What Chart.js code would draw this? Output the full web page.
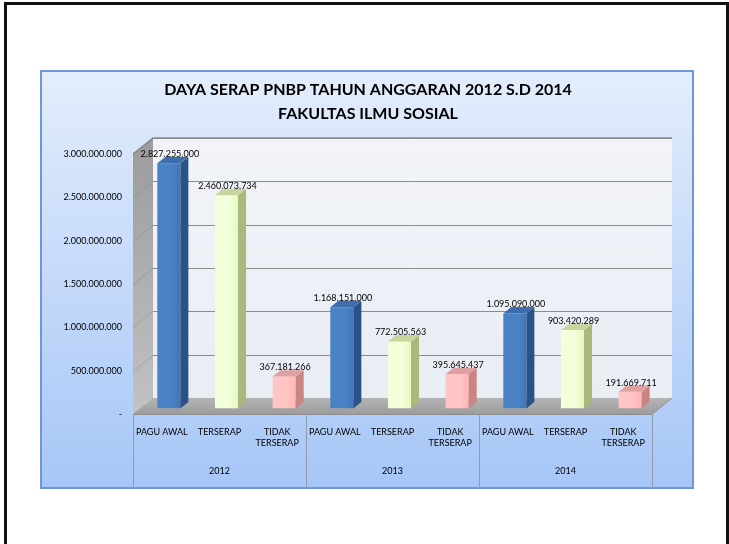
<!DOCTYPE html>
<html><head><meta charset="utf-8">
<script src="https://cdn.jsdelivr.net/npm/chart.js@4.4.1/dist/chart.umd.min.js"></script>
<style>
html,body{margin:0;padding:0;background:#fff;width:729px;height:544px;overflow:hidden;}
#frame{position:absolute;left:4px;top:2px;width:719px;height:560px;border:3px solid #111;}
#box{position:absolute;left:40px;top:70px;width:650px;height:415px;border:2px solid #6c98d8;background:linear-gradient(#e3edfc,#a7c6f7);}
#c{position:absolute;left:0;top:0;}
</style></head>
<body>
<div id="frame"></div>
<div id="box"></div>
<canvas id="c" width="729" height="544"></canvas>
<script>
const years = ['2012', '2013', '2014'];
const categories = ['PAGU AWAL', 'TERSERAP', ['TIDAK', 'TERSERAP']];
const paguAwal = [2827255000, 1168151000, 1095090000];
const terserap = [2460073734, 772505563, 903420289];
const tidakTerserap = [367181266, 395645437, 191669711];
const yTicks = [0, 500000000, 1000000000, 1500000000, 2000000000, 2500000000, 3000000000];

const labels = [];
const values = [];
years.forEach((yr, k) => {
  categories.forEach(c => labels.push(c));
  values.push(paguAwal[k], terserap[k], tidakTerserap[k]);
});

const fmt = v => v === 0 ? '-' : String(v).replace(/\B(?=(\d{3})+(?!\d))/g, '.');

const frontA = ['#4b82c6', '#f3ffda', '#ffc4c4'];
const frontB = ['#396baf', '#dbf5a6', '#ffaaaa'];
const sideC = ['#2b5288', '#a9b97c', '#c98484'];
const topC = ['#3f6eae', '#c6d69e', '#dea0a0'];

const DX = 20, DY = -16;      // wall depth
const BX = 7, BY = -5.6;      // bar position in depth
const BD = 8, BDY = -6.4;     // bar depth

const FONT = 'Lato, "Noto Sans", sans-serif';

const threeD = {
  id: 'threeD',
  beforeDatasetsDraw(chart) {
    const {ctx, chartArea: a, scales: {y}} = chart;
    ctx.save();
    let g = ctx.createLinearGradient(0, a.top, 0, a.bottom);
    g.addColorStop(0, '#9d9d9d');
    g.addColorStop(1, '#c2c2c2');
    ctx.fillStyle = g;
    ctx.beginPath();
    ctx.moveTo(a.left, a.top);
    ctx.lineTo(a.left + DX, a.top + DY);
    ctx.lineTo(a.left + DX, a.bottom + DY);
    ctx.lineTo(a.left, a.bottom);
    ctx.closePath();
    ctx.fill();
    g = ctx.createLinearGradient(0, a.top + DY, 0, a.bottom + DY);
    g.addColorStop(0, '#f2f4f9');
    g.addColorStop(1, '#e9edf4');
    ctx.fillStyle = g;
    ctx.fillRect(a.left + DX, a.top + DY, a.right - a.left, a.bottom - a.top);
    ctx.strokeStyle = '#8a8a8a';
    ctx.lineWidth = 1.5;
    ctx.beginPath();
    ctx.moveTo(a.left, a.top);
    ctx.lineTo(a.left + DX, a.top + DY);
    ctx.lineTo(a.right + DX, a.top + DY);
    ctx.stroke();
    yTicks.forEach(v => {
      if (v === 0) return;
      const py = Math.round(y.getPixelForValue(v)) + 0.5;
      ctx.strokeStyle = '#8c8c8c';
      ctx.lineWidth = 1;
      ctx.beginPath();
      ctx.moveTo(a.left + DX, py + DY);
      ctx.lineTo(a.right + DX, py + DY);
      ctx.stroke();
      ctx.strokeStyle = 'rgba(120,120,120,0.35)';
      ctx.beginPath();
      ctx.moveTo(a.left, py);
      ctx.lineTo(a.left + DX, py + DY);
      ctx.stroke();
    });
    g = ctx.createLinearGradient(0, a.bottom + DY, 0, a.bottom);
    g.addColorStop(0, '#b4b4b4');
    g.addColorStop(1, '#9c9c9c');
    ctx.fillStyle = g;
    ctx.beginPath();
    ctx.moveTo(a.left, a.bottom);
    ctx.lineTo(a.right, a.bottom);
    ctx.lineTo(a.right + DX, a.bottom + DY);
    ctx.lineTo(a.left + DX, a.bottom + DY);
    ctx.closePath();
    ctx.fill();
    ctx.strokeStyle = '#8e8e8e';
    ctx.lineWidth = 1;
    ctx.beginPath();
    ctx.moveTo(a.left, a.bottom + 0.5);
    ctx.lineTo(a.right, a.bottom + 0.5);
    ctx.lineTo(a.right + DX, a.bottom + DY);
    ctx.stroke();
    ctx.restore();
    ctx.save();
    ctx.translate(BX, BY);
  },
  afterDatasetsDraw(chart) {
    const ctx = chart.ctx;
    const meta = chart.getDatasetMeta(0);
    meta.data.forEach((bar, i) => {
      const {x, y, base, width} = bar.getProps(['x', 'y', 'base', 'width'], true);
      const l = x - width / 2, r = x + width / 2, c = i % 3;
      ctx.fillStyle = sideC[c];
      ctx.beginPath();
      ctx.moveTo(r, y);
      ctx.lineTo(r + BD, y + BDY);
      ctx.lineTo(r + BD, base + BDY);
      ctx.lineTo(r, base);
      ctx.closePath();
      ctx.fill();
      ctx.fillStyle = topC[c];
      ctx.beginPath();
      ctx.moveTo(l, y);
      ctx.lineTo(r, y);
      ctx.lineTo(r + BD, y + BDY);
      ctx.lineTo(l + BD, y + BDY);
      ctx.closePath();
      ctx.fill();
      ctx.fillStyle = '#000';
      ctx.font = '9px ' + FONT;
      ctx.textAlign = 'center';
      ctx.textBaseline = 'middle';
      ctx.fillText(fmt(values[i]), x + 1, y - 9);
    });
    ctx.restore();
  },
  afterDraw(chart) {
    const {ctx, chartArea: a, scales: {x, xYear}} = chart;
    ctx.save();
    ctx.strokeStyle = '#8f9bb0';
    ctx.lineWidth = 1;
    for (let k = 0; k <= years.length; k++) {
      const px = Math.round(x.getPixelForValue(k * categories.length - 0.5)) + 0.5;
      ctx.beginPath();
      ctx.moveTo(px, a.bottom);
      ctx.lineTo(px, xYear.bottom - 1);
      ctx.stroke();
    }
    ctx.restore();
  }
};

new Chart(document.getElementById('c'), {
  type: 'bar',
  data: {
    labels: labels,
    datasets: [{
      data: values,
      backgroundColor: (ctx) => {
        const chart = ctx.chart;
        const c = ctx.dataIndex % 3;
        const xs = chart.scales.x;
        if (!xs || !chart.chartArea) return frontB[c];
        const px = xs.getPixelForValue(ctx.dataIndex);
        const w = 23;
        const g = chart.ctx.createLinearGradient(px - w / 2 + BX, 0, px + w / 2 + BX, 0);
        g.addColorStop(0, frontA[c]);
        g.addColorStop(0.3, frontA[c]);
        g.addColorStop(1, frontB[c]);
        return g;
      },
      borderWidth: 0,
      barPercentage: 0.4,
      categoryPercentage: 1
    }]
  },
  plugins: [threeD],
  options: {
    responsive: false,
    devicePixelRatio: 1,
    animation: false,
    layout: {padding: {left: 40, right: 33, top: 0, bottom: 55}},
    plugins: {
      legend: {display: false},
      tooltip: {enabled: false},
      title: {
        display: true,
        text: ['DAYA SERAP PNBP TAHUN ANGGARAN 2012 S.D 2014', 'FAKULTAS ILMU SOSIAL'],
        color: '#000',
        font: {family: FONT, size: 16, weight: 'bold', lineHeight: 24 / 16},
        padding: {top: 78, bottom: 28}
      }
    },
    scales: {
      y: {
        min: 0, max: 3000000000,
        afterFit(s) { s.width = 93; },
        afterBuildTicks(s) { s.ticks = yTicks.map(v => ({value: v})); },
        ticks: {callback: v => fmt(v), font: {family: FONT, size: 9}, color: '#000', padding: 11},
        grid: {display: false, drawTicks: false},
        border: {display: false}
      },
      yRight: {
        position: 'right',
        min: 0, max: 1,
        afterFit(s) { s.width = 44; },
        ticks: {display: false},
        grid: {display: false, drawTicks: false},
        border: {display: false}
      },
      x: {
        offset: true,
        afterFit(s) { s.height = 45; },
        grid: {display: false, drawTicks: false},
        border: {display: false},
        ticks: {font: {family: FONT, size: 9}, color: '#000', padding: 13, maxRotation: 0, autoSkip: false}
      },
      xYear: {
        type: 'category',
        labels: years,
        position: 'bottom',
        offset: true,
        afterFit(s) { s.height = 30; },
        grid: {display: false, drawTicks: false},
        border: {display: false},
        ticks: {font: {family: FONT, size: 9}, color: '#000', padding: 7, maxRotation: 0, autoSkip: false}
      }
    }
  }
});
</script>
</body></html>
